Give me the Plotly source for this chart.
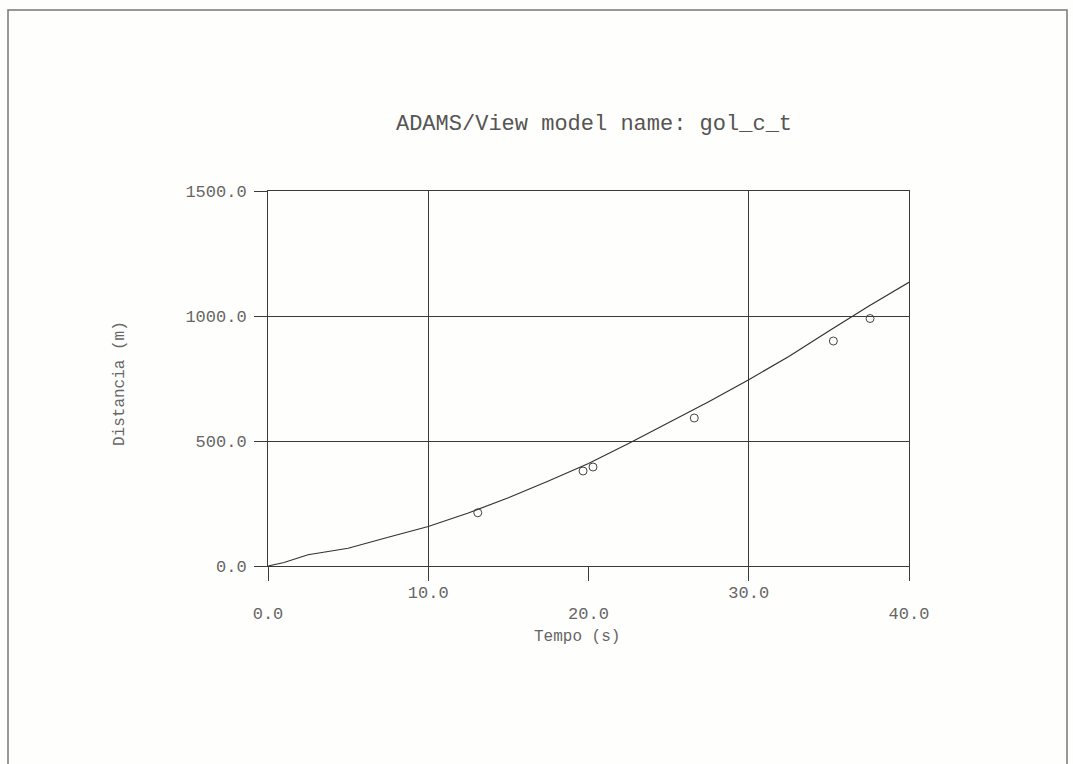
import plotly.graph_objects as go

# Simulated distance curve (time in s, distance in m)
sim_t = [0.0, 1.0, 2.5, 5.0, 7.5, 10.0, 12.5, 15.0, 17.5, 20.0, 22.5, 25.0,
         27.5, 30.0, 32.5, 35.0, 37.5, 40.0]
sim_d = [0.0, 14.0, 45.0, 71.0, 115.0, 158.0, 212.0, 273.0, 340.0, 410.0, 490.0,
         572.0, 657.0, 745.0, 838.0, 940.0, 1040.0, 1135.0]

# Measured points
meas_t = [13.09, 19.66, 20.28, 26.6, 35.28, 37.57]
meas_d = [213.0, 380.0, 396.0, 592.0, 900.0, 990.0]

# Tick values and labels
y_ticks = [0, 500, 1000, 1500]
y_labels = ["0.0", "500.0", "1000.0", "1500.0"]
x_ticks_upper = [10, 30]
x_labels_upper = ["10.0", "30.0"]
x_ticks_lower = [0, 20, 40]
x_labels_lower = ["0.0", "20.0", "40.0"]

W, H = 1073, 764
L, R, T, B = 268, 164, 191, 198
pw, ph = W - L - R, H - T - B

MONO = "Liberation Mono"
GRID = "#3a3a3a"
TXT = "#666666"

fig = go.Figure()
fig.add_trace(go.Scatter(
    x=sim_t, y=sim_d, mode="lines",
    line=dict(color="#333333", width=1.2),
    xaxis="x", yaxis="y", showlegend=False, hoverinfo="skip",
))
fig.add_trace(go.Scatter(
    x=meas_t, y=meas_d, mode="markers",
    marker=dict(symbol="circle-open", size=8, color="#444444",
                line=dict(width=1, color="#444444")),
    xaxis="x2", yaxis="y", showlegend=False,
))

axis_common = dict(range=[0, 40], ticks="outside", ticklen=14, tickwidth=1,
                   tickcolor=GRID, tickfont=dict(family=MONO, size=17, color=TXT),
                   zeroline=False, fixedrange=True)

fig.update_layout(
    width=W, height=H,
    margin=dict(l=L, r=R, t=T, b=B, pad=0),
    paper_bgcolor="#fefefc", plot_bgcolor="#fefefc",
    title=dict(text="ADAMS/View model name: gol_c_t",
               font=dict(family=MONO, size=22, color="#555555"),
               x=0.5086, xref="paper", xanchor="center",
               y=1 - 122 / H, yref="container", yanchor="middle"),
    xaxis=dict(**axis_common, tickvals=x_ticks_upper, ticktext=x_labels_upper,
               showgrid=True, gridcolor=GRID, gridwidth=1,
               showline=True, linecolor=GRID, linewidth=1, mirror=True,
               ticklabelstandoff=-3),
    xaxis2=dict(**axis_common, tickvals=x_ticks_lower, ticktext=x_labels_lower,
                overlaying="x", anchor="y", side="bottom", showgrid=False,
                showline=False, ticklabelstandoff=18),
    yaxis=dict(range=[0, 1500], tickvals=y_ticks, ticktext=y_labels,
               ticks="outside", ticklen=13, tickwidth=1, tickcolor=GRID,
               tickfont=dict(family=MONO, size=17, color=TXT),
               showgrid=True, gridcolor=GRID, gridwidth=1,
               showline=True, linecolor=GRID, linewidth=1, mirror=True,
               zeroline=False, fixedrange=True, ticklabelstandoff=4),
    annotations=[
        dict(text="Tempo (s)", xref="paper", yref="paper",
             x=(577 - L) / pw, y=-(637 - (T + ph)) / ph,
             xanchor="center", yanchor="middle", showarrow=False,
             font=dict(family=MONO, size=16, color=TXT)),
        dict(text="Distancia (m)", xref="paper", yref="paper",
             x=(120 - L) / pw, y=((T + ph) - 384) / ph, textangle=-90,
             xanchor="center", yanchor="middle", showarrow=False,
             font=dict(family=MONO, size=16, color=TXT)),
    ],
)

# Page frame (left, top and right edges)
fx0, fx1 = (8 - L) / pw, (1067 - L) / pw
fy_top, fy_bot = ((T + ph) - 10) / ph, ((T + ph) - 780) / ph
fig.add_shape(type="path", xref="paper", yref="paper",
              path=f"M {fx0} {fy_bot} L {fx0} {fy_top} L {fx1} {fy_top} L {fx1} {fy_bot}",
              line=dict(color="#777777", width=1.5), layer="above")

fig.write_html("out.html")
